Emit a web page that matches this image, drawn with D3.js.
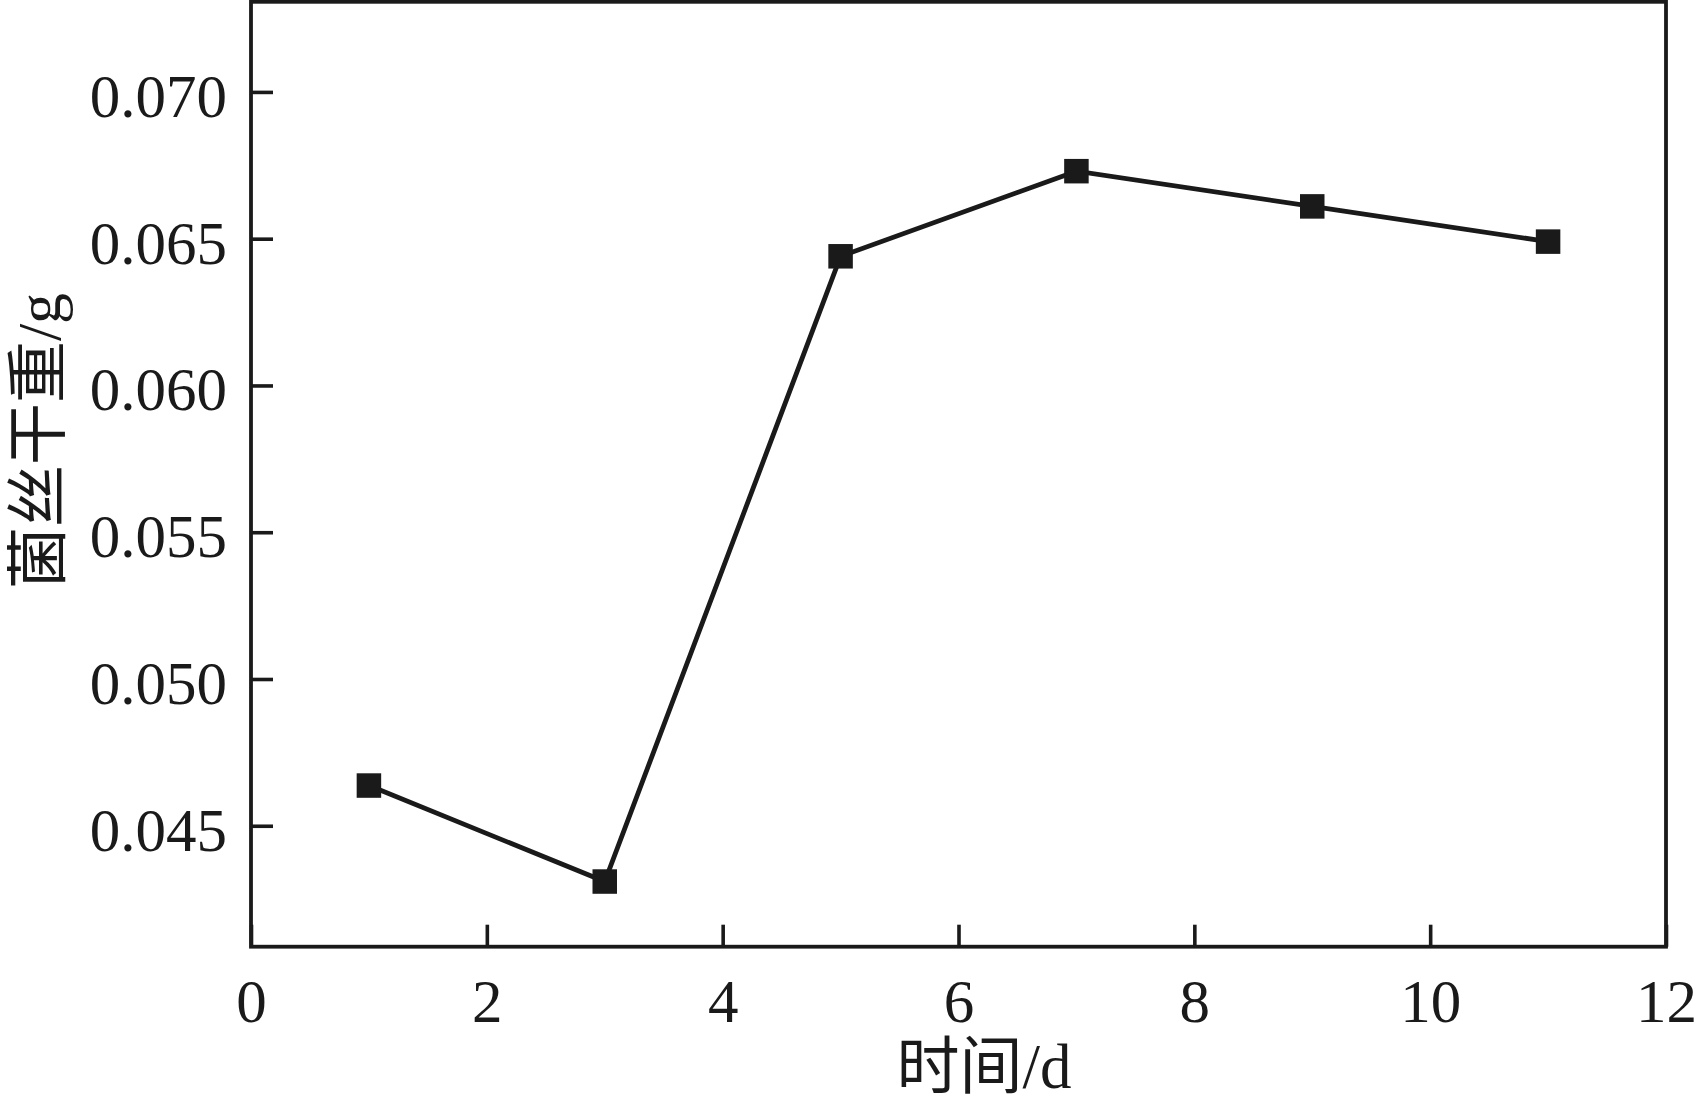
<!DOCTYPE html>
<html>
<head>
<meta charset="utf-8">
<script src="https://cdn.jsdelivr.net/npm/d3@7"></script>
<style>
  body { margin: 0; background: #fff; }
  svg { display: block; }
</style>
</head>
<body>
<svg id="chart" width="1697" height="1109"></svg>
<script>
// days and mycelium dry weight (g)
const days = [1, 3, 5, 7, 9, 11]
const weight = [0.04637, 0.0431, 0.0644, 0.0673, 0.0661, 0.0649]
const xTicks = [0, 2, 4, 6, 8, 10, 12]
const yTicks = [0.045, 0.050, 0.055, 0.060, 0.065, 0.070]

const ink = '#1a1a1a',
    font = '"Liberation Serif", "Noto Sans CJK SC", serif'

const plotLeft = 251,
    plotRight = 1666,
    plotTop = 1.8,
    plotBottom = 946.7

const svg = d3.select('#chart')

const x = d3.scaleLinear()
    .domain([0, 12])
    .range([plotLeft, plotRight])

const y = d3.scaleLinear()
    .domain([0.04088, 0.07307])
    .range([plotBottom, plotTop])

// x axis, ticks pointing inward
const xAxis = d3.axisBottom(x)
    .tickValues(xTicks)
    .tickFormat(d3.format('d'))
    .tickSizeInner(-22)
    .tickSizeOuter(0)
    .tickPadding(32)

const gx = svg.append('g')
    .attr('transform', 'translate(0,' + plotBottom + ')')
    .call(xAxis)

// y axis
const yAxis = d3.axisLeft(y)
    .tickValues(yTicks)
    .tickFormat(d3.format('.3f'))
    .tickSizeInner(-22)
    .tickSizeOuter(0)
    .tickPadding(24)

const gy = svg.append('g')
    .attr('transform', 'translate(' + plotLeft + ',0)')
    .call(yAxis)

svg.selectAll('.domain').remove()
svg.selectAll('.tick line')
    .attr('stroke', ink)
    .attr('stroke-width', 3.6)
svg.selectAll('.tick text')
    .attr('fill', ink)
    .style('font-family', font)
    .style('font-size', '61px')
gy.selectAll('.tick text').attr('dy', '0.4em')

// frame
svg.append('rect')
    .attr('x', plotLeft)
    .attr('y', plotTop)
    .attr('width', plotRight - plotLeft)
    .attr('height', plotBottom - plotTop)
    .attr('fill', 'none')
    .attr('stroke', ink)
    .attr('stroke-width', 3.8)

const points = days.map((d, i) => ({ day: d, w: weight[i] }))

const line = d3.line()
    .x(d => x(d.day))
    .y(d => y(d.w))

svg.append('path')
    .datum(points)
    .attr('d', line)
    .attr('fill', 'none')
    .attr('stroke', ink)
    .attr('stroke-width', 4.8)

const size = 24.5
svg.append('g')
    .selectAll('rect')
    .data(points)
    .enter()
    .append('rect')
    .attr('x', d => x(d.day) - size / 2)
    .attr('y', d => y(d.w) - size / 2)
    .attr('width', size)
    .attr('height', size)
    .attr('fill', ink)

// axis titles
svg.append('text')
    .attr('x', 984)
    .attr('y', 1088)
    .attr('text-anchor', 'middle')
    .attr('fill', ink)
    .style('font-family', font)
    .style('font-size', '63px')
    .text('时间/d')

svg.append('text')
    .attr('transform', 'translate(60,441) rotate(-90)')
    .attr('text-anchor', 'middle')
    .attr('fill', ink)
    .style('font-family', font)
    .style('font-size', '62px')
    .text('菌丝干重/g')
</script>
</body>
</html>
